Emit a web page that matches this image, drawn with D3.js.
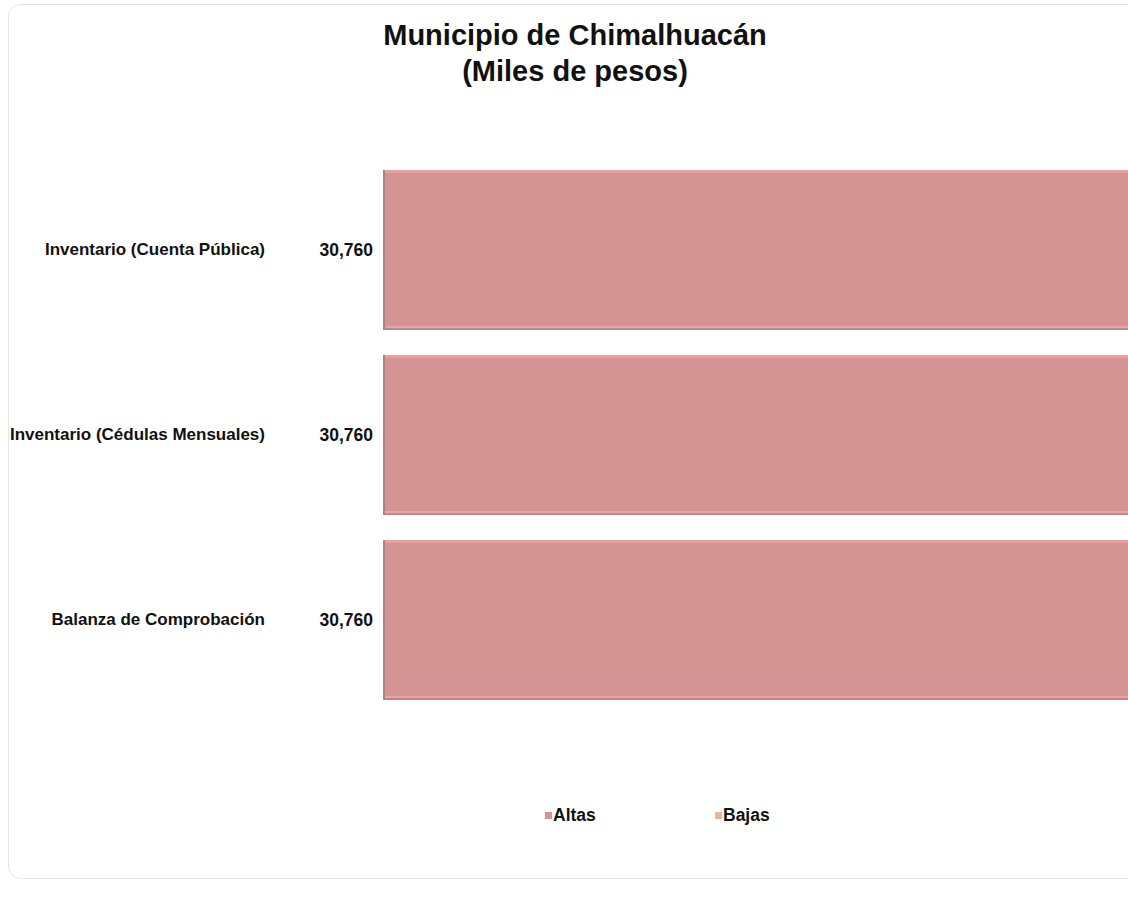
<!DOCTYPE html>
<html><head><meta charset="utf-8">
<script src="https://cdn.jsdelivr.net/npm/d3@7"></script>
<style>body{margin:0;background:#fff;overflow:hidden}svg{display:block}text{font-family:"Liberation Sans",Arial,sans-serif}</style>
</head><body>
<svg id="c" width="1128" height="905"></svg>
<script>
const titleLines = ["Municipio de Chimalhuacán", "(Miles de pesos)"];
const categories = ["Inventario (Cuenta Pública)", "Inventario (Cédulas Mensuales)", "Balanza de Comprobación"];
const altas = [30760, 30760, 30760];
const bajas = [0, 0, 0];
const seriesNames = ["Altas", "Bajas"];
const seriesColors = ["#d49494", "#e3b994"];

const svg = d3.select("#c");
svg.append("rect").attr("x", 8.5).attr("y", 4.5).attr("width", 1140).attr("height", 874)
  .attr("rx", 12).attr("fill", "#fff").attr("stroke", "#e4e4e4");

svg.selectAll("text.title").data(titleLines).join("text")
  .attr("x", 575).attr("y", (d, i) => 45 + i * 36)
  .attr("text-anchor", "middle").attr("font-size", 29).attr("font-weight", "bold").attr("fill", "#111")
  .text(d => d);

const x = d3.scaleLinear().domain([0, 30760]).range([383, 1135]);
const y = d3.scaleBand().domain(categories).range([157.5, 712.5]).paddingInner(0.135).paddingOuter(0.0675);

const g = svg.append("g");
const bars = g.selectAll("g.bar").data(categories).join("g");
bars.append("rect").attr("x", x(0)).attr("y", d => y(d))
  .attr("width", (d, i) => x(altas[i]) - x(0)).attr("height", y.bandwidth())
  .attr("fill", seriesColors[0]);
// edge effects
bars.append("rect").attr("x", x(0)).attr("y", d => y(d)).attr("width", (d, i) => x(altas[i]) - x(0)).attr("height", 3).attr("fill", "#eaa0a0");
bars.append("rect").attr("x", x(0)).attr("y", d => y(d) + y.bandwidth() - 4).attr("width", (d, i) => x(altas[i]) - x(0)).attr("height", 2).attr("fill", "#eda4a4");
bars.append("rect").attr("x", x(0)).attr("y", d => y(d) + y.bandwidth() - 2).attr("width", (d, i) => x(altas[i]) - x(0)).attr("height", 2).attr("fill", "#b98a8e");
bars.append("rect").attr("x", x(0)).attr("y", d => y(d)).attr("width", 2).attr("height", y.bandwidth()).attr("fill", "#a98286");

// bajas bars (zero width)
g.selectAll("rect.bajas").data(categories).join("rect").attr("class", "bajas")
  .attr("x", x(0)).attr("y", d => y(d)).attr("width", (d, i) => x(bajas[i]) - x(0)).attr("height", y.bandwidth())
  .attr("fill", seriesColors[1]);

const yAxis = d3.axisLeft(y).tickSize(0).tickPadding(0);
const ax = svg.append("g").attr("transform", "translate(265,0)").call(yAxis);
ax.select(".domain").remove();
ax.selectAll("text").attr("font-size", 17).attr("font-weight", "bold").attr("fill", "#111")
  .style("font-family", '"Liberation Sans",Arial,sans-serif');

svg.selectAll("text.val").data(categories).join("text").attr("class", "val")
  .attr("x", 373).attr("y", d => y(d) + y.bandwidth() / 2).attr("dy", "0.35em")
  .attr("text-anchor", "end").attr("font-size", 17.5).attr("font-weight", "bold").attr("fill", "#111")
  .text((d, i) => d3.format(",")(altas[i]));

const legX = [545, 715];
const leg = svg.selectAll("g.leg").data(seriesNames).join("g").attr("transform", (d, i) => `translate(${legX[i]},815)`);
leg.append("rect").attr("x", 0).attr("y", -3).attr("width", 7).attr("height", 7).attr("fill", (d, i) => seriesColors[i]);
leg.append("text").attr("x", 8).attr("y", 0).attr("dy", "0.35em").attr("font-size", 17.5).attr("font-weight", "bold").attr("fill", "#111").text(d => d);
</script>
</body></html>
